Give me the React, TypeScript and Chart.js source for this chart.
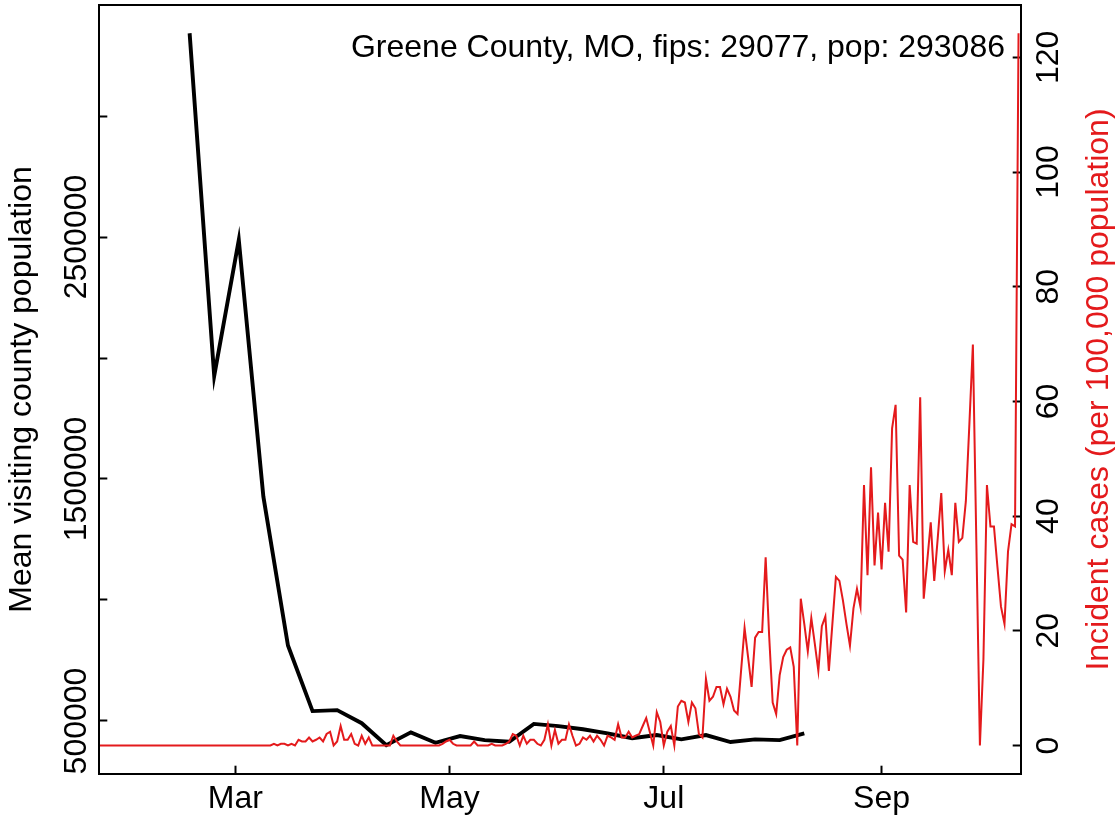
import { useEffect, useRef } from "react";
import { Chart, registerables } from "chart.js";

Chart.register(...registerables);

const countyTitle = "Greene County, MO, fips: 29077, pop: 293086";
const leftAxisTitle = "Mean visiting county population";
const rightAxisTitle = "Incident cases (per 100,000 population)";

// weekly mean visiting county population
const mobilityDates = [
  "2020-02-17", "2020-02-24", "2020-03-02", "2020-03-09", "2020-03-16", "2020-03-23",
  "2020-03-30", "2020-04-06", "2020-04-13", "2020-04-20", "2020-04-27", "2020-05-04",
  "2020-05-11", "2020-05-18", "2020-05-25", "2020-06-01", "2020-06-08", "2020-06-15",
  "2020-06-22", "2020-06-29", "2020-07-06", "2020-07-13", "2020-07-20", "2020-07-27",
  "2020-08-03", "2020-08-10",
];
const mobilityValues = [
  3342000, 1926000, 2488000, 1427000, 812000, 541000,
  545000, 491000, 400000, 453000, 410000, 438000,
  421000, 414000, 488000, 479000, 466000, 449000,
  429000, 442000, 424000, 442000, 413000, 424000,
  421000, 449000,
];

// daily incident cases per 100,000, starting at casesStartDate
const casesStartDate = "2020-01-22";
const casesValues = [
  0, 0, 0, 0, 0, 0, 0, 0, 0, 0,
  0, 0, 0, 0, 0, 0, 0, 0, 0, 0,
  0, 0, 0, 0, 0, 0, 0, 0, 0, 0,
  0, 0, 0, 0, 0, 0, 0, 0, 0, 0,
  0, 0, 0, 0, 0, 0, 0, 0, 0,
  0, 0.3, 0, 0.3, 0.3, 0, 0.3, 0, 1.0, 0.7,
  0.7, 1.4, 0.7, 1.0, 1.4, 0.7, 2.0, 2.4, 0, 0.7,
  3.4, 1.0, 1.0, 2.0, 0.3, 0, 1.7, 0.3, 1.4, 0,
  0, 0, 0, 0, 0, 1.7, 0.7, 0, 0, 0,
  0, 0, 0, 0, 0, 0, 0, 0, 0, 0.3,
  0.7, 1.0, 0.3, 0, 0, 0, 0, 0, 0.7, 0,
  0, 0, 0, 0.3, 0, 0, 0, 0.3, 0.7, 2.0,
  1.7, 0, 1.7, 0.3, 1.0, 1.0, 0.3, 0, 1.0, 3.7,
  0, 2.7, 0.3, 1.0, 1.0, 3.7, 1.7, 0, 0.3, 1.4,
  1.0, 1.7, 0.7, 1.7, 1.0, 0, 1.7, 1.4, 1.0, 3.7,
  1.4, 1.4, 2.4, 1.4, 1.7, 2.0, 3.4, 4.8, 2.4, 0,
  5.8, 4.1, 0, 2.4, 3.4, 0, 6.8, 7.8, 7.5, 4.1,
  7.5, 6.5, 2.0, 1.4, 11.6, 7.8, 8.5, 10.2, 10.2, 7.2,
  9.9, 8.5, 6.1, 5.5, 13.0, 20.5, 15.4, 10.2, 18.8, 19.8,
  19.8, 32.8, 19.1, 7.5, 5.5, 12.3, 15.4, 16.7, 17.1, 13.7,
  0, 25.6, 21.2, 16.4, 22.2, 17.7, 13.0, 20.8, 22.5, 13.0,
  21.2, 29.4, 28.7, 25.3, 21.2, 17.4, 23.9, 27.3, 24.2, 45.4,
  29.7, 48.5, 31.4, 40.6, 30.7, 42.3, 33.8, 55.3, 59.4, 33.1,
  32.4, 23.2, 45.4, 35.5, 35.2, 60.7, 25.6, 32.1, 38.9, 28.7,
  36.2, 44.0, 30.4, 34.1, 29.7, 42.3, 35.5, 36.2, 42.6, 56.0,
  69.9, 35.0, 0, 15.0, 45.4, 38.2, 38.2, 31.1, 24.2, 21.2,
  33.8, 38.6, 38.2, 124.2,
];

const xTickDates = ["2020-03-01", "2020-05-01", "2020-07-01", "2020-09-01"];
const xTickLabels = ["Mar", "May", "Jul", "Sep"];
const leftTickValues = [500000, 1000000, 1500000, 2000000, 2500000, 3000000];
const leftTickLabels = ["500000", "", "1500000", "", "2500000", ""];
const rightTickValues = [0, 20, 40, 60, 80, 100, 120];
const rightTickLabels = ["0", "20", "40", "60", "80", "100", "120"];

const FONT = '"Liberation Sans", Arial, Helvetica, sans-serif';
const FONT_SIZE = 32;
const RED = "#E41A1C";

function dayNum(s: string): number {
  const [y, m, d] = s.split("-").map(Number);
  return Date.UTC(y, m - 1, d) / 86400000;
}

const xTickDays = xTickDates.map(dayNum);

const rPlotPlugin = {
  id: "rPlot",
  afterDraw(chart: any) {
    const { ctx, chartArea: a, scales } = chart;
    ctx.save();
    ctx.strokeStyle = "#000";
    ctx.lineWidth = 2;
    ctx.strokeRect(a.left, a.top, a.right - a.left, a.bottom - a.top);

    ctx.font = `${FONT_SIZE}px ${FONT}`;
    ctx.textAlign = "center";
    ctx.textBaseline = "middle";

    const drawRot = (text: string, x: number, y: number, color: string) => {
      ctx.save();
      ctx.translate(x, y);
      ctx.rotate(-Math.PI / 2);
      ctx.fillStyle = color;
      ctx.fillText(text, 0, 0);
      ctx.restore();
    };

    const yl = scales.y;
    leftTickValues.forEach((v, i) => {
      if (!leftTickLabels[i]) return;
      drawRot(leftTickLabels[i], a.left - 22, yl.getPixelForValue(v), "#000");
    });
    const yr = scales.y1;
    rightTickValues.forEach((v, i) => {
      if (!rightTickLabels[i]) return;
      drawRot(rightTickLabels[i], a.right + 28, yr.getPixelForValue(v), "#000");
    });

    const midY = (a.top + a.bottom) / 2;
    drawRot(leftAxisTitle, a.left - 77, midY, "#000");
    drawRot(rightAxisTitle, a.right + 78, midY, RED);

    ctx.textAlign = "right";
    ctx.textBaseline = "alphabetic";
    ctx.fillStyle = "#000";
    ctx.fillText(countyTitle, a.right - 16, a.top + 52);
    ctx.restore();
  },
};

export default function App() {
  const ref = useRef<HTMLCanvasElement>(null);

  useEffect(() => {
    const canvas = ref.current;
    if (!canvas) return;
    const startDay = dayNum(casesStartDate);
    const casesData = casesValues.map((v, i) => ({ x: startDay + i, y: v }));
    const mobilityData = mobilityDates.map((d, i) => ({ x: dayNum(d), y: mobilityValues[i] }));

    const tickGrid = {
      display: true,
      drawOnChartArea: false,
      drawTicks: true,
      tickLength: -8.3,
      tickWidth: 2,
      tickColor: "#000",
    };

    const chart = new Chart(canvas, {
      type: "line",
      data: {
        datasets: [
          {
            label: "Incident cases",
            data: casesData,
            yAxisID: "y1",
            borderColor: RED,
            borderWidth: 2,
            pointRadius: 0,
            tension: 0,
          },
          {
            label: "Mean visiting county population",
            data: mobilityData,
            yAxisID: "y",
            borderColor: "#000",
            borderWidth: 3.9,
            pointRadius: 0,
            tension: 0,
            borderJoinStyle: "miter",
          },
        ],
      },
      plugins: [rPlotPlugin],
      options: {
        animation: false,
        responsive: false,
        devicePixelRatio: 1,
        parsing: false,
        normalized: true,
        layout: { padding: { top: 5, left: 0, right: 0, bottom: 0 } },
        plugins: {
          legend: { display: false },
          tooltip: { enabled: false },
          title: { display: false },
        },
        scales: {
          x: {
            type: "linear",
            position: "bottom",
            min: dayNum("2020-01-22") + 0.2,
            max: dayNum("2020-10-10") + 0.7,
            afterBuildTicks: (s: any) => {
              s.ticks = xTickDays.map((v) => ({ value: v }));
            },
            afterFit: (s: any) => {
              s.height = 48;
            },
            ticks: {
              autoSkip: false,
              maxRotation: 0,
              minRotation: 0,
              padding: 14,
              color: "#000",
              font: { family: FONT, size: FONT_SIZE },
              callback: (value: any) => {
                const i = xTickDays.indexOf(Number(value));
                return i >= 0 ? xTickLabels[i] : "";
              },
            },
            grid: tickGrid,
            border: { display: false },
          },
          y: {
            type: "linear",
            position: "left",
            min: 280990,
            max: 3458680,
            afterBuildTicks: (s: any) => {
              s.ticks = leftTickValues.map((v) => ({ value: v }));
            },
            afterFit: (s: any) => {
              s.width = 99;
            },
            ticks: { display: false },
            grid: tickGrid,
            border: { display: false },
          },
          y1: {
            type: "linear",
            position: "right",
            min: -4.97,
            max: 129.12,
            afterBuildTicks: (s: any) => {
              s.ticks = rightTickValues.map((v) => ({ value: v }));
            },
            afterFit: (s: any) => {
              s.width = 98;
            },
            ticks: { display: false },
            grid: tickGrid,
            border: { display: false },
          },
        },
      } as any,
    });
    return () => chart.destroy();
  }, []);

  return (
    <div style={{ position: "fixed", left: 0, top: 0, width: 1119, height: 822, background: "#fff" }}>
      <canvas ref={ref} width={1119} height={822} style={{ display: "block", width: 1119, height: 822 }} />
    </div>
  );
}
